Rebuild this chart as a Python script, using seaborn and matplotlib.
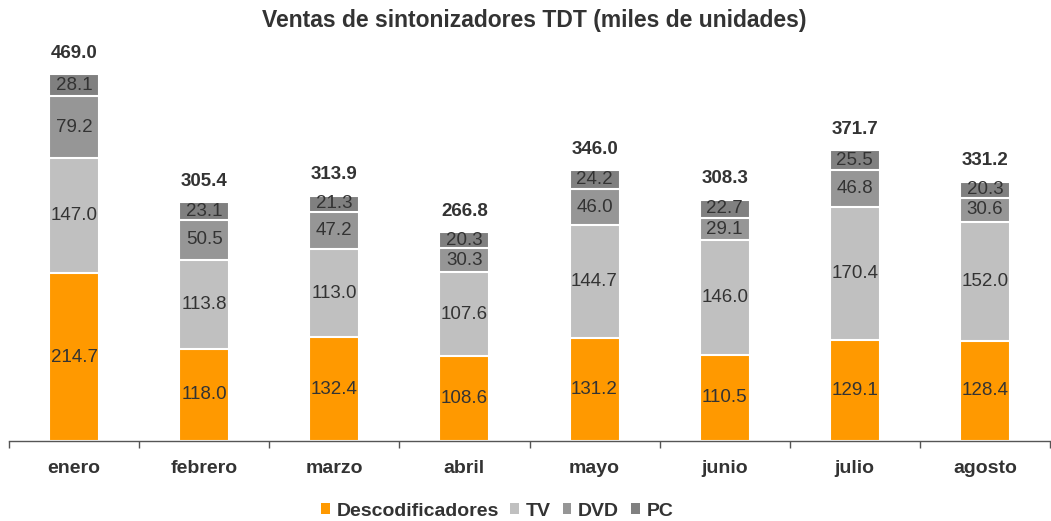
import matplotlib
matplotlib.use("Agg")
import matplotlib.pyplot as plt
import seaborn as sns
import pandas as pd
import numpy as np
from matplotlib.patches import Patch

months = ["enero", "febrero", "marzo", "abril", "mayo", "junio", "julio", "agosto"]
descod = [214.7, 118.0, 132.4, 108.6, 131.2, 110.5, 129.1, 128.4]
tv = [147.0, 113.8, 113.0, 107.6, 144.7, 146.0, 170.4, 152.0]
dvd = [79.2, 50.5, 47.2, 30.3, 46.0, 29.1, 46.8, 30.6]
pc = [28.1, 23.1, 21.3, 20.3, 24.2, 22.7, 25.5, 20.3]
totals = [469.0, 305.4, 313.9, 266.8, 346.0, 308.3, 371.7, 331.2]

series = ["Descodificadores", "TV", "DVD", "PC"]
colors = ["#FF9900", "#C0C0C0", "#969696", "#808080"]

sns.set_theme(style="white")
plt.rcParams["font.family"] = ["Liberation Sans", "DejaVu Sans"]

df = pd.DataFrame({"mes": months, "Descodificadores": descod, "TV": tv, "DVD": dvd, "PC": pc})
vals = df[series].to_numpy()
cum = np.cumsum(vals, axis=1)

fig = plt.figure(figsize=(10.51, 5.21), dpi=100)
ax = fig.add_axes([9 / 1051, 1 - 441 / 521, 1041 / 1051, 391 / 521])

# draw from top of stack down so lower segments overlay
for i in range(len(series) - 1, -1, -1):
    d = pd.DataFrame({"mes": months, "v": cum[:, i]})
    sns.barplot(data=d, x="mes", y="v", color=colors[i], width=0.385,
                edgecolor="white", linewidth=1.5, saturation=1, ax=ax, zorder=2)

# segment labels
for j in range(len(months)):
    bottom = 0
    for i in range(len(series)):
        v = vals[j, i]
        ax.text(j, bottom + v / 2, f"{v:.1f}", ha="center", va="center",
                fontsize=13.5, color="#333333", zorder=5)
        bottom += v
    ax.text(j, cum[j, -1] + 27, f"{totals[j]:.1f}", ha="center", va="center",
            fontsize=13.5, fontweight="bold", color="#333333", zorder=5)

ax.set_xlim(-0.5, len(months) - 0.5)
ax.set_ylim(0, 500)
ax.set_xlabel("")
ax.set_ylabel("")
ax.set_yticks([])
for s in ["top", "right", "left"]:
    ax.spines[s].set_visible(False)
ax.spines["bottom"].set_color("#555555")
ax.spines["bottom"].set_linewidth(1)

ax.set_xticks(np.arange(len(months)))
ax.set_xticklabels(months, fontsize=14, fontweight="bold", color="#333333")
ax.tick_params(axis="x", length=0, pad=14)
ax.set_xticks(np.arange(-0.5, len(months)), minor=True)
ax.tick_params(axis="x", which="minor", length=5, width=1, color="#555555", direction="out", bottom=True)

fig.text(534 / 1051, 1 - 21 / 521, "Ventas de sintonizadores TDT (miles de unidades)",
         ha="center", va="center", fontsize=16.5, fontweight="bold", color="#333333")

handles = [Patch(facecolor=c, edgecolor="none", label=s) for s, c in zip(series, colors)]
leg = fig.legend(handles=handles, loc="center", bbox_to_anchor=(497 / 1051, 1 - 511 / 521),
                 ncol=4, frameon=False, handlelength=0.45, handleheight=0.45,
                 handletextpad=0.35, columnspacing=0.6,
                 prop={"size": 14, "weight": "bold"})
for t in leg.get_texts():
    t.set_color("#333333")

fig.savefig("out.png", dpi=100)
